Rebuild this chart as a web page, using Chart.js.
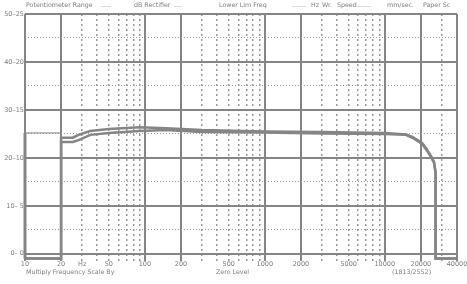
<!DOCTYPE html>
<html>
<head>
<meta charset="utf-8">
<script src="https://cdn.jsdelivr.net/npm/chart.js@4/dist/chart.umd.min.js"></script>
<style>
  body { margin: 0; background: #fff; }
  canvas { display: block; }
</style>
</head>
<body>
<canvas id="chart" width="467" height="284"></canvas>
<script>
// frequency response trace, read from the recorder paper
var freqs = [10, 20, 20, 25, 28, 35, 50, 90, 150, 300, 1000, 3000, 10000, 15000, 17000, 20500, 22500, 24500, 25700, 26500, 26500, 40000];
var chanA = [-1, -1, 24.2, 24.2, 24.8, 25.6, 26.0, 26.4, 26.2, 25.8, 25.5, 25.4, 25.2, 24.9, 24.4, 23.1, 21.7, 20.2, 19.2, 17.0, -1, -1];
var chanB = [-1, -1, 23.3, 23.3, 23.7, 24.8, 25.2, 25.6, 25.8, 25.4, 25.3, 25.1, 25.0, 24.8, 24.2, 22.9, 21.5, 20.0, 19.0, 17.0, -1, -1];
// pen calibration mark at the start
var calFreqs = [10, 10];
var calLevels = [-1, 25.2];
var calLineFreqs = [10, 20];
var calLineLevels = [25.2, 25.2];

var freqTicks = [10, 20, 30, 50, 100, 200, 500, 1000, 2000, 5000, 10000, 20000, 40000];
var freqLabels = ["10", "20", "Hz", "50", "100", "200", "500", "1000", "2000", "5000", "10000", "20000", "40000"];
var solidFreqs = [10, 20, 100, 200, 1000, 2000, 10000, 20000, 40000];
var dbTicks = [0, 10, 20, 30, 40, 50];
var dbLabels = ["0\u2013 0", "10\u2013 5", "20\u201310", "30\u201315", "40\u201320", "50\u201325"];
var halfDbTicks = [5, 15, 25, 35, 45];

var headerText = ["Potentiometer Range", ".....", "dB Rectifier", "....", "Lower Lim Freq", ".......", "Hz", "Wr.", "Speed", ".......", "mm/sec.", "Paper Sc"];
var footerText = ["Multiply Frequency Scale By", "Zero Level", "(1813/2552)"];

function pts(xs, ys) {
    return xs.map(function (x, i) { return { x: x, y: ys[i] }; });
}

// every 1..9 step of each decade that is not a solid line
var minorFreqs = [];
[10, 100, 1000, 10000].forEach(function (d) {
    for (var k = 1; k < 10; k++) {
        var f = d * k;
        if (f <= 40000 && solidFreqs.indexOf(f) < 0) minorFreqs.push(f);
    }
});

var ink = '#858585';

var paperText = {
    id: 'paperText',
    afterDraw: function (chart) {
        var c = chart.ctx;
        c.save();
        c.fillStyle = '#7c7c7c';
        c.font = '6.3px "DejaVu Sans"';
        c.textBaseline = 'middle';
        var hx = [26, 101, 134, 174, 219, 292, 311, 322, 337, 357, 387, 423];
        headerText.forEach(function (s, i) { c.fillText(s, hx[i], 5); });
        var fx = [26, 216, 392];
        footerText.forEach(function (s, i) { c.fillText(s, fx[i], 272); });
        c.restore();
    }
};

var ctx = document.getElementById("chart").getContext('2d');
var chart = new Chart(ctx, {
    type: 'line',
    data: {
        datasets: [{
            data: pts(freqs, chanA),
            borderColor: ink,
            borderWidth: 2.5,
            pointRadius: 0,
            tension: 0,
            clip: false
        }, {
            data: pts(freqs, chanB),
            borderColor: ink,
            borderWidth: 2.5,
            pointRadius: 0,
            tension: 0,
            clip: false
        }, {
            data: pts(calFreqs, calLevels),
            borderColor: ink,
            borderWidth: 3,
            pointRadius: 0,
            clip: false
        }, {
            data: pts(calLineFreqs, calLineLevels),
            borderColor: ink,
            borderWidth: 1,
            pointRadius: 0,
            clip: false
        }]
    },
    options: {
        responsive: false,
        devicePixelRatio: 1,
        animation: false,
        layout: { padding: { top: 14, right: 10, left: 0, bottom: 0 } },
        plugins: {
            legend: { display: false },
            tooltip: { enabled: false }
        },
        scales: {
            x: {
                type: 'logarithmic',
                min: 10,
                max: 40000,
                position: 'bottom',
                afterBuildTicks: function (s) {
                    s.ticks = freqTicks.map(function (v) { return { value: v }; });
                },
                afterFit: function (s) {
                    s.height = 23;
                    s.paddingLeft = 0;
                    s.paddingRight = 0;
                },
                grid: {
                    drawTicks: false,
                    lineWidth: 2,
                    color: function (c) {
                        return solidFreqs.indexOf(c.tick.value) >= 0 ? ink : 'rgba(0,0,0,0)';
                    }
                },
                border: { display: false },
                ticks: {
                    autoSkip: false,
                    maxRotation: 0,
                    padding: -1,
                    color: '#7c7c7c',
                    font: { family: 'DejaVu Sans', size: 6.5 },
                    callback: function (v) {
                        var i = freqTicks.indexOf(v);
                        return i >= 0 ? freqLabels[i] : '';
                    }
                }
            },
            x2: {
                type: 'logarithmic',
                min: 10,
                max: 40000,
                position: 'bottom',
                afterBuildTicks: function (s) {
                    s.ticks = minorFreqs.map(function (v) { return { value: v }; });
                },
                afterFit: function (s) {
                    s.height = 0;
                    s.paddingLeft = 0;
                    s.paddingRight = 0;
                },
                grid: { drawTicks: false, lineWidth: 1.5, color: '#999' },
                border: { display: false, dash: [2, 3] },
                ticks: { display: false }
            },
            y: {
                min: -1.5,
                max: 50,
                position: 'left',
                afterBuildTicks: function (s) {
                    s.ticks = dbTicks.map(function (v) { return { value: v }; });
                },
                afterFit: function (s) { s.width = 25; },
                grid: { drawTicks: false, lineWidth: 2, color: ink },
                border: { display: false },
                ticks: {
                    padding: 1,
                    color: '#7c7c7c',
                    font: { family: 'DejaVu Sans', size: 6.5 },
                    callback: function (v) {
                        var i = dbTicks.indexOf(v);
                        return i >= 0 ? dbLabels[i] : '';
                    }
                }
            },
            y2: {
                min: -1.5,
                max: 50,
                position: 'left',
                afterBuildTicks: function (s) {
                    s.ticks = halfDbTicks.map(function (v) { return { value: v }; });
                },
                afterFit: function (s) { s.width = 0; },
                grid: { drawTicks: false, lineWidth: 1, color: '#999' },
                border: { display: false, dash: [1, 2] },
                ticks: { display: false }
            }
        }
    },
    plugins: [paperText]
});
</script>
</body>
</html>
